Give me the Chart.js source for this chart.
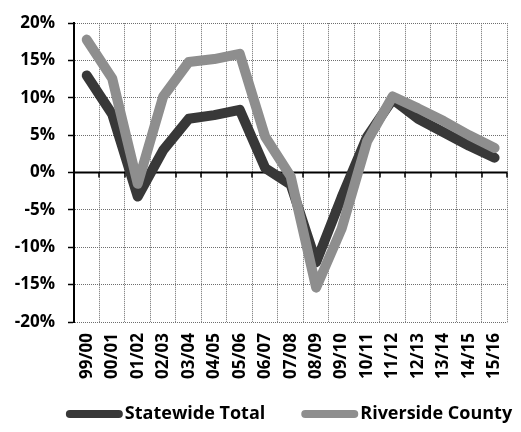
<!DOCTYPE html>
<html>
<head>
<meta charset="utf-8">
<script src="https://cdn.jsdelivr.net/npm/chart.js@4"></script>
<style>
  html, body { margin: 0; padding: 0; background: #fff; overflow: hidden; }
  #wrap { position: relative; width: 526px; height: 432px; }
</style>
</head>
<body>
<div id="wrap"><canvas id="growth" width="526" height="432"></canvas></div>
<script>
// Fiscal years (July–June)
const categories = ['99/00', '00/01', '01/02', '02/03', '03/04', '04/05', '05/06', '06/07', '07/08',
                    '08/09', '09/10', '10/11', '11/12', '12/13', '13/14', '14/15', '15/16'];

// Year-over-year change, percent
const statewideTotal  = [13.0, 7.8, -3.2, 3.0, 7.2, 7.7, 8.4, 0.6, -1.6, -12.0, -3.3, 4.8, 9.8, 7.2, 5.4, 3.6, 2.0];
const riversideCounty = [17.8, 12.6, -1.5, 10.2, 14.8, 15.2, 15.9, 4.8, -0.5, -15.4, -7.5, 4.2, 10.2, 8.6, 6.9, 5.0, 3.3];

const seriesNames = ['Statewide Total', 'Riverside County'];
const yMin = -20, yMax = 20, yStep = 5;

const FONT = "'Open Sans', 'DejaVu Sans', sans-serif";
const DARK = '#383838';
const LIGHT = '#8e8e8e';
const GRID = '#6e6e6e';

Chart.defaults.font.family = FONT;
Chart.defaults.font.weight = 'bold';
Chart.defaults.font.size = 17;
Chart.defaults.color = '#000';

// Solid axis at 0% with small marks at each category boundary
const zeroAxis = {
  id: 'zeroAxis',
  beforeDatasetsDraw(chart) {
    const { ctx, chartArea, scales: { x, y } } = chart;
    const y0 = y.getPixelForValue(0);
    ctx.save();
    ctx.strokeStyle = '#000';
    ctx.lineWidth = 2;
    ctx.beginPath();
    ctx.moveTo(chartArea.left, y0);
    ctx.lineTo(chartArea.right, y0);
    ctx.stroke();
    const half = (x.getPixelForValue(1) - x.getPixelForValue(0)) / 2;
    ctx.lineWidth = 1.5;
    ctx.beginPath();
    for (let i = 0; i < categories.length; i++) {
      const bx = Math.round(x.getPixelForValue(i) + half);
      ctx.moveTo(bx, y0);
      ctx.lineTo(bx, y0 + 5);
    }
    ctx.stroke();
    ctx.restore();
  }
};

// Legend row under the axis: thick line sample followed by the series name
const seriesLegend = {
  id: 'seriesLegend',
  afterDraw(chart, args, opts) {
    const { ctx } = chart;
    ctx.save();
    ctx.font = `bold ${opts.fontSize}px ${FONT}`;
    ctx.textBaseline = 'middle';
    ctx.textAlign = 'left';
    const items = chart.data.datasets.map(ds => ({
      ds,
      w: ctx.measureText(ds.label).width
    }));
    const total = items.reduce((s, it) => s + opts.sample + opts.gap + it.w, 0) +
                  opts.spacing * (items.length - 1);
    let x = opts.centerX - total / 2;
    items.forEach(it => {
      ctx.strokeStyle = it.ds.borderColor;
      ctx.lineWidth = opts.lineWidth;
      ctx.lineCap = 'round';
      ctx.beginPath();
      ctx.moveTo(x, opts.y);
      ctx.lineTo(x + opts.sample, opts.y);
      ctx.stroke();
      x += opts.sample + opts.gap;
      ctx.fillStyle = '#000';
      ctx.fillText(it.ds.label, x, opts.y);
      x += it.w + opts.spacing;
    });
    ctx.restore();
  }
};

new Chart(document.getElementById('growth'), {
  type: 'line',
  data: {
    labels: categories,
    datasets: [
      {
        label: seriesNames[0],
        data: statewideTotal,
        borderColor: DARK,
        backgroundColor: DARK,
        borderWidth: 10,
        order: 1
      },
      {
        label: seriesNames[1],
        data: riversideCounty,
        borderColor: LIGHT,
        backgroundColor: LIGHT,
        borderWidth: 10,
        order: 0
      }
    ]
  },
  options: {
    responsive: false,
    animation: false,
    events: [],
    layout: { padding: { top: 19, left: 0, right: 0, bottom: 40 } },
    elements: {
      line: { tension: 0, borderCapStyle: 'round', borderJoinStyle: 'round', fill: false },
      point: { radius: 0, hoverRadius: 0 }
    },
    scales: {
      x: {
        type: 'category',
        offset: true,
        grid: {
          offset: true,
          color: GRID,
          lineWidth: 1,
          drawTicks: false
        },
        border: { display: false, dash: [1, 1] },
        ticks: {
          autoSkip: false,
          minRotation: 90,
          maxRotation: 90,
          padding: 11,
          font: { size: 17, weight: 'bold' }
        },
        afterFit(scale) { scale.height = 70; }
      },
      y: {
        min: yMin,
        max: yMax,
        grid: {
          color: GRID,
          lineWidth: 1,
          drawTicks: true,
          tickLength: 6,
          tickColor: '#000',
          tickWidth: 1.5
        },
        border: { display: true, color: '#000', width: 2, dash: [1, 1] },
        ticks: {
          stepSize: yStep,
          padding: 13,
          font: { size: 17, weight: 'bold' },
          callback: v => v + '%'
        },
        afterFit(scale) { scale.width = 74; }
      }
    },
    plugins: {
      legend: { display: false },
      tooltip: { enabled: false },
      seriesLegend: {
        centerX: 291,
        y: 414,
        fontSize: 18,
        sample: 49,
        gap: 6,
        spacing: 40,
        lineWidth: 8
      }
    }
  },
  plugins: [zeroAxis, seriesLegend]
});
</script>
</body>
</html>
